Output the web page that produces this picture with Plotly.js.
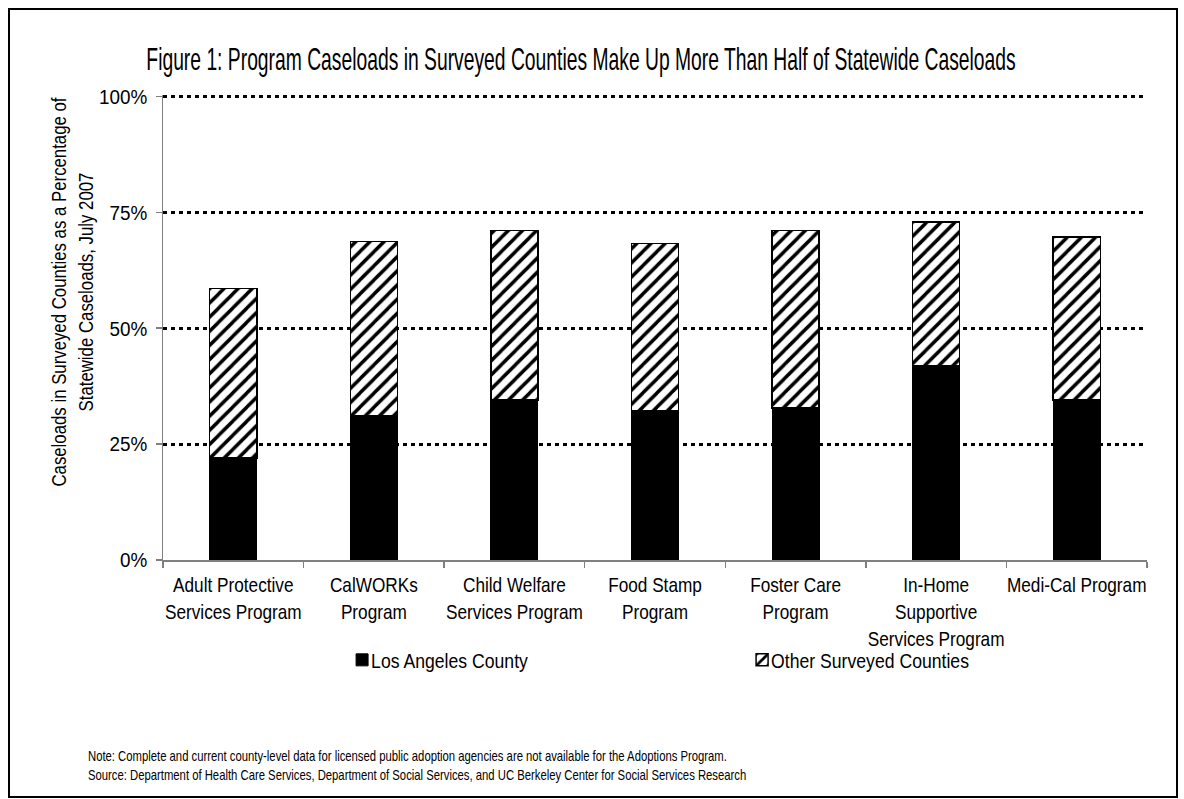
<!DOCTYPE html>
<html>
<head>
<meta charset="utf-8">
<script src="https://cdn.plot.ly/plotly-3.0.1.min.js"></script>
<style>
  html, body { margin: 0; padding: 0; background: #fff; }
  #chart { width: 1184px; height: 799px; }
  #frame { position: absolute; left: 8px; top: 8px; width: 1166px; height: 786px; border: 2px solid #000; pointer-events: none; }
</style>
</head>
<body>
<div id="chart"></div>
<div id="frame"></div>
<script>
const categories = [
  "Adult Protective<br>Services Program",
  "CalWORKs<br>Program",
  "Child Welfare<br>Services Program",
  "Food Stamp<br>Program",
  "Foster Care<br>Program",
  "In-Home<br>Supportive<br>Services Program",
  "Medi-Cal Program"
];
const losAngeles = [0.220, 0.312, 0.345, 0.323, 0.328, 0.420, 0.345];
const otherCounties = [0.366, 0.375, 0.366, 0.360, 0.383, 0.309, 0.352];
const yTickVals = [0, 0.25, 0.5, 0.75, 1];
const yTickText = ["0%", "25%", "50%", "75%", "100%"];

const FONT = "Liberation Sans, Arial, sans-serif";

const traces = [
  {
    type: "bar", name: "Los Angeles County", x: categories, y: losAngeles,
    marker: { color: "#000", line: { color: "#000", width: 1 } },
    hoverinfo: "none"
  },
  {
    type: "bar", name: "Other Surveyed Counties", x: categories, y: otherCounties,
    marker: {
      color: "#fff",
      line: { color: "#000", width: 1.5 },
      pattern: { shape: "/", fgcolor: "#000", bgcolor: "#fff", size: 10, solidity: 0.35 }
    },
    hoverinfo: "none"
  }
];

const layout = {
  width: 1184, height: 799,
  paper_bgcolor: "#fff", plot_bgcolor: "#fff",
  margin: { l: 163, r: 37, t: 95, b: 239 },
  barmode: "stack",
  bargap: 0.665,
  font: { family: FONT, size: 21, color: "#000" },
  title: {
    text: "Figure 1: Program Caseloads in Surveyed Counties Make Up More Than Half of Statewide Caseloads",
    font: { family: FONT, size: 32, color: "#000" },
    xref: "container", yref: "container",
    x: 581 / 1184, xanchor: "center",
    y: 1 - 59 / 799, yanchor: "middle"
  },
  xaxis: {
    type: "category",
    showline: true, linecolor: "#808080", linewidth: 1.5,
    ticks: "outside", tickson: "boundaries", ticklen: 6, tickcolor: "#808080", tickwidth: 1.5,
    tickfont: { family: FONT, size: 21, color: "#000" },
    ticklabelstandoff: 5,
    tickangle: 0,
    showgrid: false, zeroline: false, fixedrange: true
  },
  yaxis: {
    range: [0, 1.003],
    tickvals: yTickVals, ticktext: yTickText,
    showline: true, linecolor: "#808080", linewidth: 1.5,
    ticks: "outside", ticklen: 6, tickcolor: "#808080", tickwidth: 1.5,
    tickfont: { family: FONT, size: 21, color: "#000" },
    ticklabelstandoff: 4,
    showgrid: true, gridcolor: "#000", gridwidth: 3, griddash: "4px,4px",
    zeroline: false, fixedrange: true
  },
  showlegend: true,
  legend: {
    orientation: "h",
    x: 0.182, xanchor: "left",
    y: -0.2155, yanchor: "middle",
    font: { family: FONT, size: 21, color: "#000" },
    entrywidth: 355, entrywidthmode: "pixels",
    traceorder: "normal",
    bgcolor: "rgba(0,0,0,0)"
  },
  annotations: [
    {
      text: "Caseloads in Surveyed Counties as a Percentage of<br>Statewide Caseloads, July 2007",
      textangle: -90,
      xref: "paper", yref: "paper",
      x: (72 - 163) / 984, y: (560 - 293) / 464,
      xanchor: "center", yanchor: "middle",
      showarrow: false,
      font: { family: FONT, size: 21, color: "#000" }
    },
    {
      text: "Note: Complete and current county-level data for licensed public adoption agencies are not available for the Adoptions Program.<br>Source: Department of Health Care Services, Department of Social Services, and UC Berkeley Center for Social Services Research",
      xref: "paper", yref: "paper",
      x: (86 - 163) / 984, y: (560 - 765) / 464,
      xanchor: "left", yanchor: "middle", align: "left",
      showarrow: false,
      font: { family: FONT, size: 15, color: "#000" }
    }
  ]
};

// Condense rendered text horizontally (narrow typeface look), keeping the anchor point fixed.
function condense(el, s, dx) {
  const bb = el.getBBox();
  if (!bb.width) return;
  const anchor = el.getAttribute("text-anchor") || "start";
  let ox = bb.x;
  if (anchor === "middle") ox = bb.x + bb.width / 2;
  else if (anchor === "end") ox = bb.x + bb.width;
  const prev = el.getAttribute("transform") || "";
  el.setAttribute("transform", prev + " translate(" + (ox + (dx || 0)) + ",0) scale(" + s + ",1) translate(" + (-ox) + ",0)");
}
function condenseToWidth(el, w) {
  const bb = el.getBBox();
  if (bb.width) condense(el, w / bb.width, 0);
}

Plotly.newPlot("chart", traces, layout, { staticPlot: true, displayModeBar: false }).then(function (gd) {
  const t = gd.querySelector(".gtitle");
  if (t) condenseToWidth(t, 870);
  gd.querySelectorAll(".xtick text").forEach(function (el) { condense(el, 0.82); });
  gd.querySelectorAll(".ytick text").forEach(function (el) { condense(el, 0.9); });
  gd.querySelectorAll(".legend text.legendtext").forEach(function (el) { condense(el, 0.84, -11); });
  const ann = gd.querySelectorAll(".annotation-text");
  if (ann[0]) condense(ann[0], 0.8);
  if (ann[1]) condenseToWidth(ann[1], 659);
});
</script>
</body>
</html>
